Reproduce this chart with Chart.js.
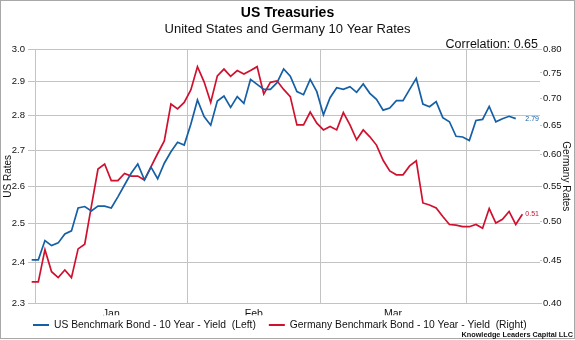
<!DOCTYPE html>
<html>
<head>
<meta charset="utf-8">
<script src="https://cdn.jsdelivr.net/npm/chart.js@4.4.1/dist/chart.umd.min.js"></script>
<style>
  body { margin: 0; background: #fff; }
  canvas { display: block; }
</style>
</head>
<body>
<canvas id="rates" width="575" height="340"></canvas>
<script>
// trading days, Dec 29 2017 - Apr 12 2018 (weekdays, holidays carried)
const dates = [
  '2017-12-29',
  '2018-01-01', '2018-01-02', '2018-01-03', '2018-01-04', '2018-01-05', '2018-01-08', '2018-01-09', '2018-01-10',
  '2018-01-11', '2018-01-12', '2018-01-15', '2018-01-16', '2018-01-17', '2018-01-18', '2018-01-19', '2018-01-22',
  '2018-01-23', '2018-01-24', '2018-01-25', '2018-01-26', '2018-01-29', '2018-01-30', '2018-01-31',
  '2018-02-01', '2018-02-02', '2018-02-05', '2018-02-06', '2018-02-07', '2018-02-08', '2018-02-09', '2018-02-12',
  '2018-02-13', '2018-02-14', '2018-02-15', '2018-02-16', '2018-02-19', '2018-02-20', '2018-02-21', '2018-02-22',
  '2018-02-23', '2018-02-26', '2018-02-27', '2018-02-28',
  '2018-03-01', '2018-03-02', '2018-03-05', '2018-03-06', '2018-03-07', '2018-03-08', '2018-03-09', '2018-03-12',
  '2018-03-13', '2018-03-14', '2018-03-15', '2018-03-16', '2018-03-19', '2018-03-20', '2018-03-21', '2018-03-22',
  '2018-03-23', '2018-03-26', '2018-03-27', '2018-03-28', '2018-03-29', '2018-03-30',
  '2018-04-02', '2018-04-03', '2018-04-04', '2018-04-05', '2018-04-06', '2018-04-09', '2018-04-10', '2018-04-11',
  '2018-04-12'
]

// US 10y (left axis)
const usYield = [
  2.407,
  2.407, 2.456, 2.443, 2.450, 2.473, 2.481, 2.541, 2.545, 2.533, 2.546, 2.546, 2.541, 2.571, 2.603, 2.635, 2.661,
  2.617, 2.652, 2.620, 2.663, 2.695, 2.722, 2.714,
  2.774, 2.845, 2.796, 2.771, 2.842, 2.857, 2.823, 2.855, 2.835, 2.907, 2.892, 2.877, 2.877, 2.897, 2.939, 2.917,
  2.870, 2.861, 2.907, 2.870,
  2.801, 2.852, 2.882, 2.877, 2.885, 2.868, 2.893, 2.865, 2.847, 2.815, 2.821, 2.843, 2.843, 2.877, 2.910, 2.833,
  2.825, 2.840, 2.793, 2.781, 2.739, 2.737,
  2.727, 2.785, 2.788, 2.826, 2.781, 2.790, 2.797, 2.79,
  null
]

// German 10y (right axis)
const deYield = [
  0.424,
  0.424, 0.463, 0.436, 0.429, 0.438, 0.429, 0.464, 0.470, 0.521, 0.577, 0.585, 0.559, 0.559, 0.570, 0.566, 0.566,
  0.560, 0.581, 0.602, 0.623, 0.689, 0.680, 0.692,
  0.716, 0.763, 0.732, 0.692, 0.744, 0.758, 0.743, 0.755, 0.748, 0.755, 0.763, 0.708, 0.731, 0.734, 0.717, 0.703,
  0.651, 0.651, 0.674, 0.654,
  0.642, 0.648, 0.642, 0.673, 0.651, 0.625, 0.642, 0.630, 0.616, 0.591, 0.574, 0.568, 0.568, 0.582, 0.590, 0.526,
  0.523, 0.519, 0.507, 0.496, 0.495, 0.493,
  0.493, 0.496, 0.491, 0.518, 0.498, 0.503, 0.514, 0.496,
  0.51
]

const usTicks = [2.3, 2.4, 2.5, 2.6, 2.7, 2.8, 2.9, 3.0]
const deTicks = [0.40, 0.45, 0.50, 0.55, 0.60, 0.65, 0.70, 0.75, 0.80]
const monthNames = ['Jan', 'Feb', 'Mar', 'Apr', 'May', 'Jun', 'Jul', 'Aug', 'Sep', 'Oct', 'Nov', 'Dec']
const correlation = 0.65

const seriesNames = [
  'US Benchmark Bond - 10 Year - Yield  (Left)',
  'Germany Benchmark Bond - 10 Year - Yield  (Right)'
]
const blue = '#155fa5'
const red = '#d0102f'
const grey = '#c3c3c3'
const family = "'Liberation Sans', Arial, sans-serif"

// month boundaries sit half a day before the first trading day of each month
const boundaries = []
dates.forEach((d, i) => {
  if (i > 0 && d.slice(5, 7) !== dates[i - 1].slice(5, 7)) boundaries.push(i - 0.5)
})
// month names go in the middle of every complete month
const monthLabels = []
for (let b = 0; b < boundaries.length - 1; b++) {
  const mid = (boundaries[b] + boundaries[b + 1]) / 2
  const m = parseInt(dates[Math.ceil(boundaries[b])].slice(5, 7)) - 1
  monthLabels.push({ value: mid, text: monthNames[m] })
}
const xTicks = boundaries.concat(monthLabels.map(l => l.value)).sort((a, b) => a - b)

const toPoints = (arr) => arr.map((v, i) => ({ x: i, y: v }))

const extras = {
  id: 'extras',
  afterDraw(chart) {
    const { ctx, scales } = chart
    ctx.save()

    // frame
    ctx.strokeStyle = '#a8a8a8'
    ctx.lineWidth = 1
    ctx.strokeRect(0.5, 0.5, 574, 338)

    // correlation note
    ctx.fillStyle = '#111'
    ctx.font = `12.5px ${family}`
    ctx.textAlign = 'right'
    ctx.textBaseline = 'middle'
    ctx.fillText(`Correlation: ${correlation.toFixed(2)}`, 538, 44.5)

    // legend
    ctx.font = `10.3px ${family}`
    ctx.textAlign = 'left'
    let x = 33
    const y = 325
    chart.data.datasets.forEach(ds => {
      ctx.strokeStyle = ds.borderColor
      ctx.lineWidth = 2
      ctx.beginPath()
      ctx.moveTo(x, y)
      ctx.lineTo(x + 16, y)
      ctx.stroke()
      ctx.fillStyle = '#111'
      ctx.fillText(ds.label, x + 21, y)
      x += 21 + ctx.measureText(ds.label).width + 13
    })

    // last values at the end of each line
    ctx.font = `7px ${family}`
    const lastX = scales.x.getPixelForValue(dates.length - 1) + 3
    chart.data.datasets.forEach(ds => {
      const pts = ds.data.filter(p => p.y !== null)
      const last = pts[pts.length - 1].y
      ctx.fillStyle = ds.borderColor
      ctx.fillText(last.toFixed(2), lastX, scales[ds.yAxisID].getPixelForValue(last))
    })

    // source
    ctx.font = `bold 7.3px ${family}`
    ctx.textAlign = 'right'
    ctx.fillStyle = '#111'
    ctx.fillText('Knowledge Leaders Capital LLC', 573, 334.5)

    ctx.restore()
  }
}

new Chart(document.getElementById('rates'), {
  type: 'line',
  data: {
    datasets: [
      {
        label: seriesNames[0],
        data: toPoints(usYield),
        yAxisID: 'y',
        borderColor: blue,
        backgroundColor: blue,
        borderWidth: 1.7,
        pointRadius: 0,
        tension: 0,
        clip: false
      },
      {
        label: seriesNames[1],
        data: toPoints(deYield),
        yAxisID: 'y1',
        borderColor: red,
        backgroundColor: red,
        borderWidth: 1.7,
        pointRadius: 0,
        tension: 0,
        clip: false
      }
    ]
  },
  options: {
    responsive: false,
    animation: false,
    devicePixelRatio: 1,
    layout: { padding: { left: 0, right: 0, top: 0, bottom: 24.7 } },
    plugins: {
      legend: { display: false },
      tooltip: { enabled: false },
      title: {
        display: true,
        text: 'US Treasuries',
        color: '#000',
        font: { family, size: 14, weight: 'bold' },
        padding: { top: 4.5, bottom: 0 }
      },
      subtitle: {
        display: true,
        text: 'United States and Germany 10 Year Rates',
        color: '#111',
        font: { family, size: 13 },
        padding: { top: 0, bottom: 12.4 }
      }
    },
    scales: {
      x: {
        type: 'linear',
        bounds: 'data',
        min: 0.5,
        max: 76.66,
        afterBuildTicks: (s) => { s.ticks = xTicks.map(v => ({ value: v })) },
        afterFit: (s) => { s.height = 12 },
        grid: {
          color: (c) => (c.tick && boundaries.includes(c.tick.value)) ? grey : 'rgba(0,0,0,0)',
          drawTicks: false
        },
        border: { display: false },
        ticks: {
          autoSkip: false,
          maxRotation: 0,
          padding: 4.5,
          color: '#111',
          font: { family, size: 10.5 },
          callback: (v) => {
            const l = monthLabels.find(m => m.value === v)
            return l ? l.text : ''
          }
        }
      },
      y: {
        type: 'logarithmic',
        position: 'left',
        min: 2.3,
        max: 3.0,
        afterBuildTicks: (s) => { s.ticks = usTicks.map(v => ({ value: v })) },
        afterFit: (s) => { s.width = 35 },
        grid: { color: grey, tickLength: 7 },
        border: { display: true, color: grey },
        ticks: {
          padding: 3,
          color: '#111',
          font: { family, size: 9.5 },
          callback: (v) => v.toFixed(1)
        },
        title: {
          display: true,
          text: 'US Rates',
          color: '#111',
          font: { family, size: 10 },
          padding: { top: 2.5, bottom: 0 }
        }
      },
      y1: {
        type: 'logarithmic',
        position: 'right',
        min: 0.4,
        max: 0.8,
        afterBuildTicks: (s) => { s.ticks = deTicks.map(v => ({ value: v })) },
        afterFit: (s) => { s.width = 35 },
        grid: { drawOnChartArea: false, color: grey, tickLength: 2 },
        border: { display: false },
        ticks: {
          padding: 1,
          color: '#111',
          font: { family, size: 9.5 },
          callback: (v) => v.toFixed(2)
        },
        title: {
          display: true,
          text: 'Germany Rates',
          color: '#111',
          font: { family, size: 10 },
          padding: { top: 3, bottom: 0 }
        }
      }
    }
  },
  plugins: [extras]
})
</script>
</body>
</html>
